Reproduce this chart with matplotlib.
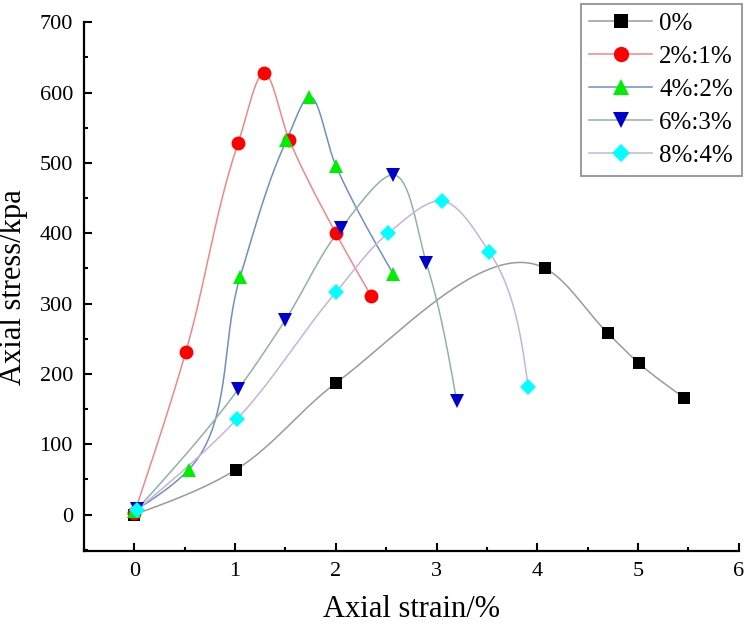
import numpy as np
import matplotlib
matplotlib.use("Agg")
import matplotlib.pyplot as plt
from matplotlib.lines import Line2D
from matplotlib.ticker import MultipleLocator

plt.rcParams['font.family'] = ['Liberation Serif', 'DejaVu Serif']

# ---- data ----
labels = ["0%", "2%:1%", "4%:2%", "6%:3%", "8%:4%"]
x0 = [0.0, 1.01, 2.0, 4.08, 4.70, 5.01, 5.46]
y0 = [0, 64, 187, 350, 258, 215, 166]
x1 = [0.0, 0.51, 1.03, 1.29, 1.54, 2.0, 2.35]
y1 = [2, 231, 528, 628, 532, 400, 311]
x2 = [0.0, 0.54, 1.05, 1.51, 1.73, 2.0, 2.57]
y2 = [5, 64, 338, 532, 594, 496, 342]
x3 = [0.03, 1.03, 1.50, 2.05, 2.57, 2.90, 3.20]
y3 = [8, 178, 277, 407, 483, 357, 161]
x4 = [0.03, 1.02, 2.0, 2.52, 3.05, 3.52, 3.91]
y4 = [7, 136, 316, 400, 446, 374, 181]

xs = [x0, x1, x2, x3, x4]
ys = [y0, y1, y2, y3, y4]
marker_colors = ["#000000", "#ff0000", "#00ee00", "#0000cc", "#00ffff"]
line_colors = ["#9a9a9a", "#ee8888", "#6f8fc4", "#8fb3a3", "#c4b4dc"]
markers = ["s", "o", "^", "v", "D"]
msizes = [9, 10, 10, 10, 8.5]


def smooth_curve(x, y, sx=101.0, sy=0.704, n=40):
    """Parametric Hermite (Bessel tangents, natural ends) through the data points."""
    P = np.column_stack([np.asarray(x, float) * sx, np.asarray(y, float) * sy])
    m = len(P)
    h = np.hypot(*np.diff(P, axis=0).T)
    d = np.diff(P, axis=0) / h[:, None]
    T = np.zeros_like(P)
    for i in range(1, m - 1):
        T[i] = (h[i] * d[i - 1] + h[i - 1] * d[i]) / (h[i - 1] + h[i])
    T[0] = (3 * d[0] - T[1]) / 2
    T[-1] = (3 * d[-1] - T[-2]) / 2
    out = []
    s = np.linspace(0, 1, n)
    h00 = 2 * s**3 - 3 * s**2 + 1
    h10 = s**3 - 2 * s**2 + s
    h01 = -2 * s**3 + 3 * s**2
    h11 = s**3 - s**2
    for i in range(m - 1):
        seg = (h00[:, None] * P[i] + h10[:, None] * h[i] * T[i]
               + h01[:, None] * P[i + 1] + h11[:, None] * h[i] * T[i + 1])
        out.append(seg if i == 0 else seg[1:])
    C = np.vstack(out)
    return C[:, 0] / sx, C[:, 1] / sy


fig = plt.figure(figsize=(7.5, 6.35), dpi=100)
ax = fig.add_axes([0.112, 0.132, 0.873, 0.833])

for i in range(5):
    px, py = smooth_curve(xs[i], ys[i])
    ax.plot(px, py, color=line_colors[i], lw=1.1, zorder=2)
for i in range(5):
    ax.plot(xs[i], ys[i], linestyle='none', marker=markers[i], color=marker_colors[i],
            markersize=msizes[i], markeredgewidth=0, zorder=3)

ax.set_xlim(-0.5, 6)
ax.set_ylim(-52, 700)
ax.xaxis.set_major_locator(MultipleLocator(1))
ax.xaxis.set_minor_locator(MultipleLocator(0.5))
ax.yaxis.set_major_locator(MultipleLocator(100))
ax.yaxis.set_minor_locator(MultipleLocator(50))
ax.spines['top'].set_visible(False)
ax.spines['right'].set_visible(False)
for s in ['left', 'bottom']:
    ax.spines[s].set_linewidth(1.6)
ax.tick_params(which='major', direction='in', length=6, width=1.5, labelsize=16, pad=8)
ax.tick_params(which='minor', direction='in', length=3, width=1.5)

ax.set_xlabel("Axial strain/%", fontsize=22, labelpad=10)
ax.set_ylabel("Axial stress/kpa", fontsize=22, labelpad=8)

handles = [Line2D([0], [0], color=line_colors[i], lw=1.1, marker=markers[i],
                  markerfacecolor=marker_colors[i], markeredgewidth=0,
                  markersize=msizes[i] + 1) for i in range(5)]
leg = fig.legend(handles, labels, loc='upper right', bbox_to_anchor=(0.989, 0.994),
                 bbox_transform=fig.transFigure, borderaxespad=0, fontsize=18,
                 fancybox=False, edgecolor='#777777', handlelength=2.5,
                 labelspacing=0.42, borderpad=0.35, handletextpad=0.3, frameon=True)
leg.get_frame().set_linewidth(1.3)

fig.savefig("out.png", dpi=100)
